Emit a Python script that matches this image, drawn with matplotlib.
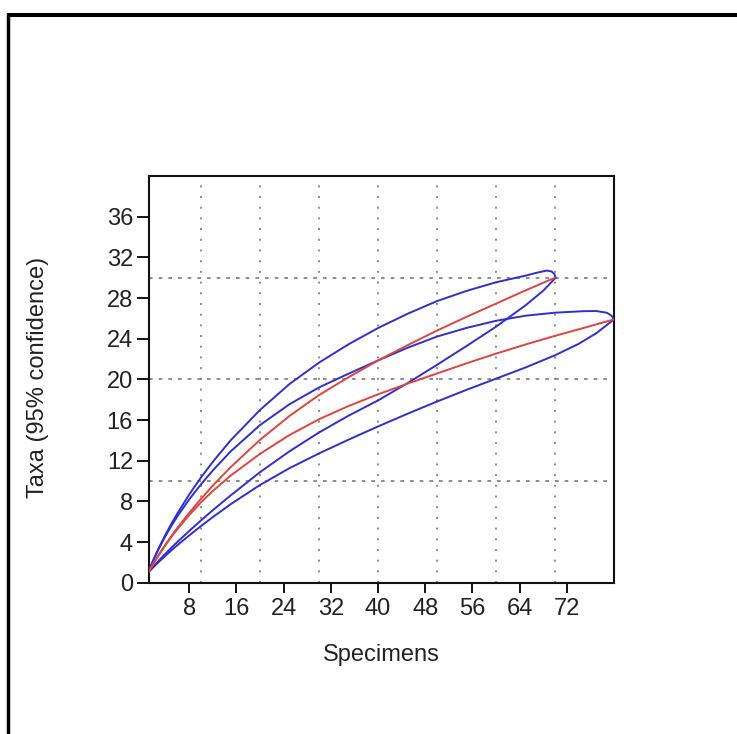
import matplotlib
matplotlib.use("Agg")
import matplotlib.pyplot as plt
from matplotlib.lines import Line2D
from matplotlib.ticker import FixedLocator

# --- data (rarefaction curves, two samples) ---
# sample A: 70 specimens
rare_a_x = [1, 2, 3, 4, 5, 6, 8, 10, 12, 15, 20, 25, 30, 35, 40, 45, 50, 55, 60, 65, 70]
rare_a = [1, 1.97, 2.9, 3.78, 4.61, 5.4, 6.88, 8.26, 9.56, 11.36, 14.06, 16.41, 18.46,
          20.21, 21.86, 23.36, 24.8, 26.15, 27.45, 28.75, 30.0]

upper_a_x = [1, 2, 3, 4, 5, 6, 8, 10, 12, 15, 20, 25, 30, 35, 40, 45, 50, 55, 60,
             65, 67, 68.6, 69.4, 69.9, 70.1]
upper_a = [1, 2.37, 3.62, 4.77, 5.84, 6.84, 8.69, 10.37, 11.9, 14.0, 17.0, 19.55, 21.65,
           23.45, 25.05, 26.45, 27.7, 28.7, 29.55, 30.2, 30.5, 30.7, 30.62, 30.35, 30.0]

lower_a_x = [1, 2, 3, 4, 5, 6, 8, 10, 12, 15, 20, 25, 30, 35, 40, 45, 50, 55, 60, 65, 68,
             69.2, 70.1]
lower_a = [1, 1.65, 2.28, 2.88, 3.46, 4.02, 5.1, 6.14, 7.14, 8.58, 10.88, 12.93, 14.78,
           16.43, 17.93, 19.63, 21.43, 23.28, 25.18, 27.28, 28.72, 29.45, 30.0]

# sample B: 80 specimens
rare_b_x = [1, 2, 3, 4, 5, 6, 8, 10, 12, 15, 20, 25, 30, 35, 40, 45, 50, 55, 60, 65, 70, 75, 80]
rare_b = [1, 1.96, 2.88, 3.74, 4.54, 5.29, 6.67, 7.91, 9.03, 10.53, 12.68, 14.53, 16.08,
          17.38, 18.53, 19.58, 20.58, 21.58, 22.53, 23.43, 24.28, 25.08, 25.9]

upper_b_x = [1, 2, 3, 4, 5, 6, 8, 10, 12, 15, 20, 25, 30, 35, 40, 45, 50, 55, 60, 65,
             70, 75, 77, 78.8, 79.6, 80]
upper_b = [1, 2.35, 3.55, 4.63, 5.63, 6.55, 8.21, 9.69, 11.05, 12.91, 15.51, 17.56, 19.21,
           20.56, 21.86, 23.11, 24.21, 25.06, 25.76, 26.26, 26.56, 26.71, 26.72, 26.55,
           26.25, 25.9]

lower_b_x = [1, 2, 3, 4, 5, 6, 8, 10, 12, 15, 20, 25, 30, 35, 40, 45, 50, 55, 60, 65,
             70, 74, 77, 79, 80]
lower_b = [1, 1.58, 2.14, 2.68, 3.2, 3.7, 4.66, 5.58, 6.46, 7.72, 9.62, 11.27, 12.72,
           14.07, 15.37, 16.62, 17.82, 18.97, 20.07, 21.17, 22.37, 23.49, 24.54, 25.44, 25.9]

x_ticks = [8, 16, 24, 32, 40, 48, 56, 64, 72]
y_ticks = [0, 4, 8, 12, 16, 20, 24, 28, 32, 36]
grid_x = [10, 20, 30, 40, 50, 60, 70]
grid_y = [10, 20, 30]

BLUE = "#2f2fcf"
RED = "#e2433f"

plt.rcParams["font.family"] = ["Liberation Sans", "DejaVu Sans"]

fig = plt.figure(figsize=(7.37, 7.34), dpi=100)
ax = fig.add_axes([0.2022, 0.2061, 0.6309, 0.5541])

# confidence bands first, expected curves on top
for xs, ys in [(upper_a_x, upper_a), (lower_a_x, lower_a),
               (upper_b_x, upper_b), (lower_b_x, lower_b)]:
    ax.plot(xs, ys, color=BLUE, lw=1.4, zorder=3, solid_joinstyle="round")
for xs, ys in [(rare_a_x, rare_a), (rare_b_x, rare_b)]:
    ax.plot(xs, ys, color=RED, lw=1.4, zorder=4, solid_joinstyle="round")

ax.set_xlim(1.17, 80)
ax.set_ylim(0, 40)
ax.set_xticks(x_ticks)
ax.set_yticks(y_ticks)
# grid sits on its own (minor) positions, some of which coincide with ticks
ax.xaxis.remove_overlapping_locs = False
ax.yaxis.remove_overlapping_locs = False
ax.xaxis.set_minor_locator(FixedLocator(grid_x))
ax.yaxis.set_minor_locator(FixedLocator(grid_y))
ax.xaxis.grid(True, which="minor", color="#8a8a8a", lw=1.4, linestyle=(0, (1, 4.5)))
ax.yaxis.grid(True, which="minor", color="#7a7a7a", lw=1.2, linestyle=(0, (2.2, 3.6)))
ax.tick_params(which="minor", length=0)
ax.tick_params(axis="x", which="major", direction="out", length=7, width=1.3,
               labelsize=17, pad=4, labelcolor="#222222")
ax.tick_params(axis="y", which="major", direction="out", length=8.5, width=1.3,
               labelsize=17, pad=3, labelcolor="#222222")

for side in ["left", "bottom", "top", "right"]:
    ax.spines[side].set_linewidth(1.5)
    ax.spines[side].set_color("#111111")

ax.set_xlabel("Specimens", fontsize=17, color="#222222", va="center")
ax.set_ylabel("Taxa (95% confidence)", fontsize=17, color="#222222", va="center")
ax.xaxis.set_label_coords(0.5, -0.178)
ax.yaxis.set_label_coords(-0.239, 0.505)

# thick window border at top and left
fig.add_artist(Line2D([6.7 / 737, 1.0], [1 - 15.3 / 734, 1 - 15.3 / 734],
                      color="black", lw=2.9, solid_capstyle="butt"))
fig.add_artist(Line2D([8.3 / 737, 8.3 / 737], [0.0, 1 - 13.3 / 734],
                      color="black", lw=2.5, solid_capstyle="butt"))

fig.savefig("out.png", dpi=100)
